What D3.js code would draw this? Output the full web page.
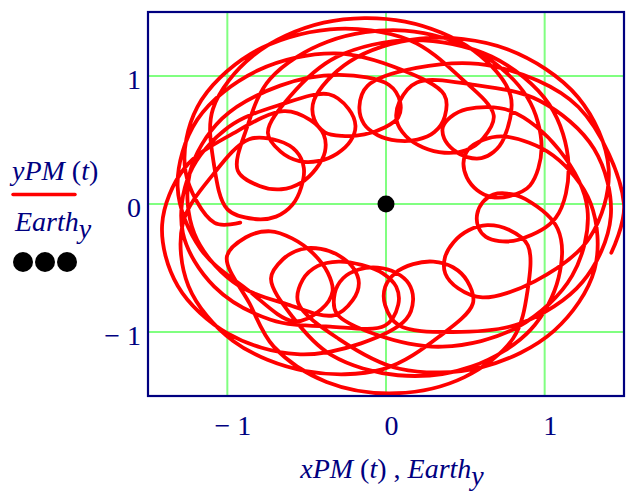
<!DOCTYPE html>
<html><head><meta charset="utf-8">
<script src="https://cdn.jsdelivr.net/npm/d3@7/dist/d3.min.js"></script>
<style>
body{margin:0;background:#fff;}
svg{display:block;}
text{font-family:"Liberation Serif","Times New Roman",serif;fill:#000080;}
</style></head>
<body>
<svg id="chart" width="631" height="493"></svg>
<script>
// Trajectory of PM around Earth (angle in degrees, radius)
const pmAngleDeg = [
189,
187.8,168.5,147.5,126,104.5,83.5,64.2,
45.6,40,39.9,47.4,62,76.6,84.1,84,78.4,
59.8,39.8,18.2,-4,-26.2,-47.8,-67.8,
-85.2,-90.4,-90.5,-83.5,-70,-56.5,-49.5,-49.6,-54.8,
-72.2,-90.8,-111.2,-132,-152.8,-173.2,-191.8,
-210.4,-216,-216.1,-208.6,-194,-179.4,-171.9,-172,-177.6,
-196.2,-214.3,-234.2,-254.5,-274.8,-294.7,-312.8,
-325.5,-329.1,-329.2,-324.4,-315,-305.6,-300.8,-300.9,-304.5,
-317.2,-338.7,-361.8,-385.5,-409.2,-432.3,-453.8,
-470,-474.8,-475,-468.5,-456,-443.5,-437,-437.2,-442,
-458.2,-475.5,-494.5,-514,-533.5,-552.5,-569.8,
-588.4,-594,-594.1,-586.6,-572,-557.4,-549.9,-550,-555.6,
-574.2,-593.2,-613.8,-635,-656.2,-676.8,-695.8,
-710.9,-715.3,-715.4,-709.4,-698,-686.6,-680.6,-680.7,-685.1,
-700.2,-719.8,-741.2,-763,-784.8,-806.2,-825.8,
-845.6,-851.6,-851.7,-843.6,-828,-812.4,-804.3,-804.4,-810.4,
-830.2,-848.8,-869.2,-890,-910.8,-931.2,-949.8,
-967.2,-972.4,-972.5,-965.5,-952,-938.5,-931.5,-931.6,-936.8,
-954.2,-974.8,-997.2,-1020,-1042.8,-1065.2,-1085.8,
-1098.5,-1102.1,-1102.2,-1097.4,-1088,-1078.6,-1073.8,-1073.9,-1077.5,
-1090.2,-1107.8,-1127.2,-1147,-1166.8,-1186.2,-1203.8,
-1221.2,-1226.4,-1226.5,-1219.5,-1206,-1192.5,-1185.5,-1185.6,-1190.8,
-1208.2,-1227.8,-1249.2,-1271,-1292.8,-1314.2,-1333.8,
-1351.2,-1356.4,-1356.5,-1349.5,-1336,-1322.5,-1315.5,-1315.6,-1320.8,
-1338.2,-1359.4,-1382.1,-1405.5,-1428.9,-1451.6,-1472.8,
-1490.2,-1495.4,-1495.5,-1488.5,-1475,-1461.5,-1454.5,-1454.6,-1459.8,
-1477.2,-1492.6,-1509.9,-1527.5,-1545.1,-1562.4,-1577.8,
-1597.6,-1603.6,-1603.7,-1595.6,-1580,-1564.4,-1556.3,-1556.4,-1562.4,
-1582.2,-1603.2,-1625.8,-1649,-1672.2,-1694.8,-1715.8,
-1733.2,-1738.4,-1738.5,-1731.5,-1718,-1704.5,-1697.5,-1697.6,-1702.8,
-1720.2,-1742,-1768,-1800,-1815
];
const pmRadius = [
0.93,
1.09,1.29,1.41,1.45,1.41,1.29,1.09,
0.97,0.80,0.655,0.544,0.50,0.544,0.655,0.80,0.97,
1.08,1.26,1.38,1.42,1.38,1.26,1.08,
0.95,0.79,0.65,0.54,0.50,0.54,0.65,0.79,0.95,
1.09,1.29,1.40,1.44,1.40,1.29,1.115,
1.0,0.84,0.70,0.59,0.55,0.59,0.70,0.84,1.0,
1.13,1.32,1.43,1.47,1.43,1.32,1.155,
0.90,0.79,0.70,0.63,0.60,0.63,0.70,0.79,0.90,
1.07,1.17,1.27,1.30,1.27,1.17,1.02,
0.91,0.77,0.64,0.54,0.50,0.54,0.64,0.77,0.91,
1.10,1.30,1.42,1.46,1.42,1.30,1.11,
0.97,0.81,0.67,0.56,0.52,0.56,0.67,0.81,0.97,
1.06,1.22,1.32,1.36,1.32,1.22,1.075,
0.92,0.79,0.67,0.585,0.55,0.585,0.67,0.79,0.92,
1.12,1.29,1.41,1.45,1.41,1.29,1.095,
0.95,0.79,0.65,0.54,0.50,0.54,0.65,0.79,0.95,
1.02,1.16,1.26,1.30,1.26,1.16,1.02,
0.93,0.78,0.64,0.54,0.50,0.54,0.64,0.78,0.93,
1.035,1.19,1.29,1.33,1.29,1.19,1.075,
0.88,0.77,0.68,0.61,0.58,0.61,0.68,0.77,0.88,
1.10,1.23,1.34,1.38,1.34,1.23,1.06,
0.93,0.78,0.64,0.54,0.50,0.54,0.64,0.78,0.93,
1.0,1.14,1.23,1.26,1.23,1.14,1.05,
0.93,0.80,0.68,0.60,0.56,0.60,0.68,0.80,0.93,
1.135,1.31,1.43,1.47,1.43,1.31,1.115,
0.95,0.80,0.66,0.56,0.52,0.56,0.66,0.80,0.95,
1.12,1.32,1.44,1.48,1.44,1.32,1.16,
1.085,0.92,0.76,0.65,0.60,0.65,0.76,0.92,1.085,
1.10,1.22,1.32,1.36,1.32,1.22,1.05,
0.93,0.78,0.64,0.54,0.50,0.54,0.64,0.78,0.93,
1.08,1.27,1.43,1.50,1.47
];
const earthX = [0];
const earthY = [0];
const xTicks = [-1, 0, 1];
const yTicks = [-1, 0, 1];
const xDomain = [-1.5, 1.5];
const yDomain = [-1.5, 1.5];

const svg = d3.select("#chart");
const L = 148, R = 624, T = 12, B = 396;
const x = d3.scaleLinear().domain(xDomain).range([L, R]);
const y = d3.scaleLinear().domain(yDomain).range([B, T]);

// grid
const grid = svg.append("g").attr("stroke", "#80ff80").attr("stroke-width", 2);
grid.selectAll("line.v").data(xTicks).join("line")
  .attr("x1", d => x(d)).attr("x2", d => x(d)).attr("y1", T).attr("y2", B);
grid.selectAll("line.h").data(yTicks).join("line")
  .attr("y1", d => y(d)).attr("y2", d => y(d)).attr("x1", L).attr("x2", R);

// trajectory
const n = Math.min(pmAngleDeg.length, pmRadius.length);
const pts = d3.range(n).map(i => {
  const p = d3.pointRadial((90 - pmAngleDeg[i]) * Math.PI / 180, pmRadius[i]);
  return [p[0], -p[1]];
});
svg.append("clipPath").attr("id", "clip").append("rect")
  .attr("x", L).attr("y", T).attr("width", R - L).attr("height", B - T);
const line = d3.line().x(d => x(d[0])).y(d => y(d[1])).curve(d3.curveCatmullRom.alpha(0.5));
svg.append("path").datum(pts).attr("clip-path", "url(#clip)")
  .attr("d", line).attr("fill", "none").attr("stroke", "#ff0000")
  .attr("stroke-width", 3.8).attr("stroke-linejoin", "round").attr("stroke-linecap", "round");

// Earth
svg.selectAll("circle.earth").data(earthX.map((v, i) => [v, earthY[i]])).join("circle")
  .attr("cx", d => x(d[0])).attr("cy", d => y(d[1])).attr("r", 8.5).attr("fill", "#000");

// frame
svg.append("rect").attr("x", L).attr("y", T).attr("width", R - L).attr("height", B - T)
  .attr("fill", "none").attr("stroke", "#000080").attr("stroke-width", 2.2);

const fmt = d => d < 0 ? "\u2212 " + Math.abs(d) : String(d);
// x axis labels
const xa = svg.append("g").attr("transform", `translate(0,${B})`)
  .call(d3.axisBottom(x).tickValues(xTicks).tickSize(0).tickFormat(fmt));
xa.select(".domain").remove();
xa.selectAll("text").attr("y", 39).attr("dy", 0).attr("dx", 5)
  .attr("font-size", 28).attr("fill", "#000080")
  .attr("font-family", "Liberation Serif, serif");
// y axis labels
const ya = svg.append("g").attr("transform", `translate(${L},0)`)
  .call(d3.axisLeft(y).tickValues(yTicks).tickSize(0).tickFormat(fmt));
ya.select(".domain").remove();
ya.selectAll("text").attr("x", -7).attr("y", 12).attr("dy", 0)
  .attr("font-size", 28).attr("fill", "#000080")
  .attr("font-family", "Liberation Serif, serif");

// axis title
const xt = svg.append("text").attr("x", 392).attr("y", 478).attr("text-anchor", "middle").attr("font-size", 28);
xt.append("tspan").attr("font-style", "italic").text("xPM");
xt.append("tspan").text(" (");
xt.append("tspan").attr("font-style", "italic").text("t");
xt.append("tspan").text(") , ");
xt.append("tspan").attr("font-style", "italic").text("Earth");
xt.append("tspan").attr("font-style", "italic").attr("dy", 7).text("y");

// legend
const l1 = svg.append("text").attr("x", 12).attr("y", 180).attr("font-size", 28);
l1.append("tspan").attr("font-style", "italic").text("yPM");
l1.append("tspan").text(" (");
l1.append("tspan").attr("font-style", "italic").text("t");
l1.append("tspan").text(")");
svg.append("line").attr("x1", 13).attr("x2", 75).attr("y1", 194.5).attr("y2", 194.5)
  .attr("stroke", "#ff0000").attr("stroke-width", 3.5).attr("stroke-linecap", "round");
const l2 = svg.append("text").attr("x", 15).attr("y", 231).attr("font-size", 28);
l2.append("tspan").attr("font-style", "italic").text("Earth");
l2.append("tspan").attr("font-style", "italic").attr("dy", 7).text("y");
svg.selectAll("circle.leg").data([23, 45, 67]).join("circle")
  .attr("cx", d => d).attr("cy", 262).attr("r", 10).attr("fill", "#000");
</script>
</body></html>
